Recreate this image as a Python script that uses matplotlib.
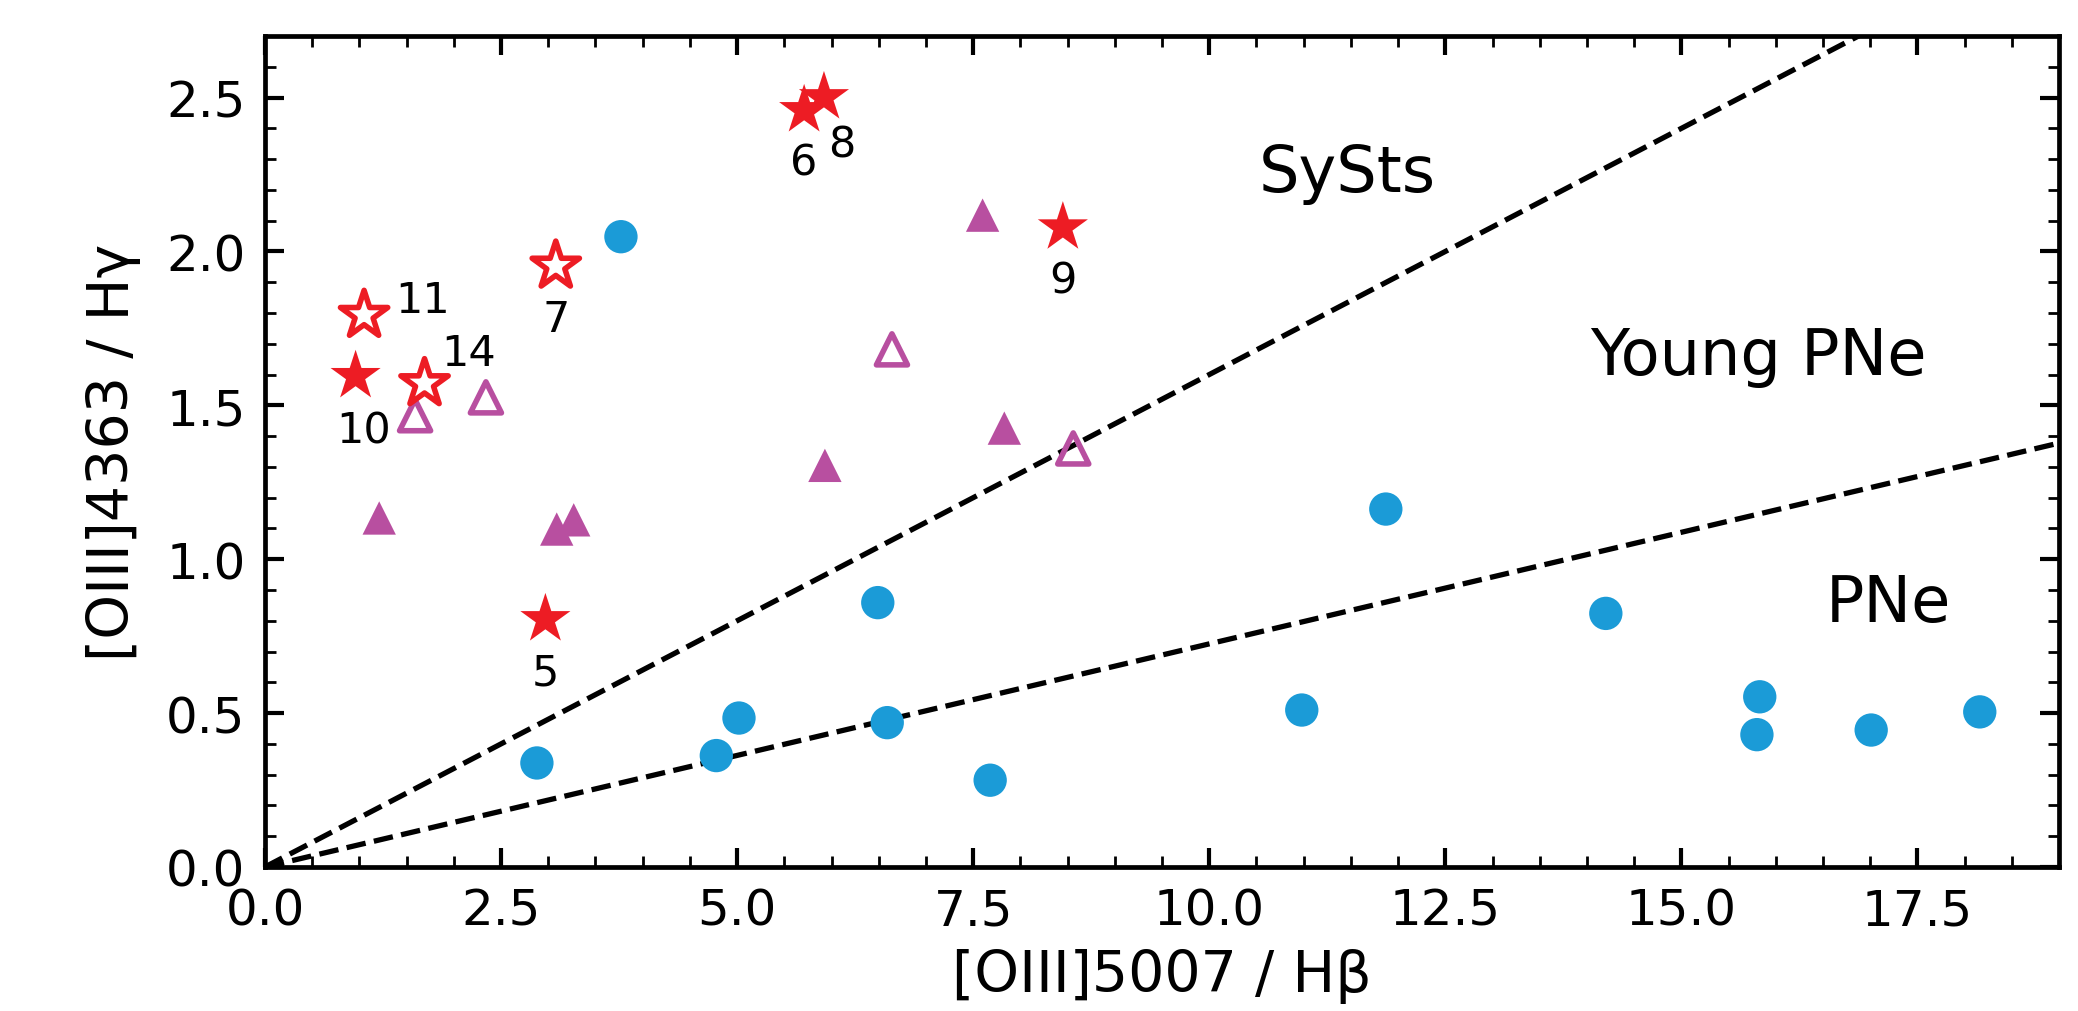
import matplotlib
matplotlib.use("Agg")
import matplotlib.pyplot as plt
from matplotlib.ticker import MultipleLocator

# ---- data ----
pne_x = [2.88, 3.77, 5.02, 4.78, 6.49, 6.59, 7.68, 11.87, 10.98, 14.20, 15.83, 15.80, 17.01, 18.16]
pne_y = [0.338, 2.048, 0.484, 0.362, 0.859, 0.469, 0.282, 1.163, 0.510, 0.824, 0.553, 0.430, 0.445, 0.504]

tri_filled_x = [7.60, 7.83, 5.93, 1.21, 3.27, 3.09]
tri_filled_y = [2.118, 1.426, 1.305, 1.134, 1.128, 1.098]

tri_open_x = [1.59, 2.34, 6.64, 8.56]
tri_open_y = [1.468, 1.526, 1.682, 1.360]

star_filled_x = [2.97, 5.71, 5.92, 8.45, 0.96]
star_filled_y = [0.805, 2.459, 2.501, 2.078, 1.595]
star_filled_lab = ["5", "6", "8", "9", "10"]

star_open_x = [3.08, 1.05, 1.69]
star_open_y = [1.953, 1.793, 1.571]
star_open_lab = ["7", "11", "14"]

slope_systs = 0.160
slope_pne = 0.0725

regions = ["SySts", "Young PNe", "PNe"]
region_x = [11.46, 15.81, 17.19]
region_y = [2.197, 1.601, 0.800]

xlabel = "[OIII]5007 / Hβ"
ylabel = "[OIII]4363 / Hγ"

# label offsets in points (style)
offsets = {"5": (0, -19), "6": (0, -19), "8": (6.5, -17), "9": (0, -19),
           "10": (3, -19.5), "7": (0, -19), "11": (21, 5.5), "14": (16, 11)}

BLUE = "#1B9BD7"
MAG = "#B84FA0"
RED = "#ED1C24"

plt.rcParams['font.family'] = ['DejaVu Sans']
fig = plt.figure(figsize=(10.39, 5.06), dpi=200)
ax = fig.add_axes([0.1275, 0.1423, 0.8634, 0.8211])

xl = [0, 19]
ax.plot(xl, [slope_systs * v for v in xl], ls='--', color='k', lw=1.9, zorder=1)
ax.plot(xl, [slope_pne * v for v in xl], ls='--', color='k', lw=1.9, zorder=1)

ax.scatter(pne_x, pne_y, s=144, marker='o', color=BLUE, edgecolors='none', zorder=2)
ax.scatter(tri_filled_x, tri_filled_y, s=144, marker='^', color=MAG, edgecolors='none', zorder=3)
ax.scatter(tri_open_x, tri_open_y, s=125, marker='^', facecolors='none', edgecolors=MAG, linewidths=2.0, zorder=3)
ax.scatter(star_filled_x, star_filled_y, s=360, marker='*', color=RED, edgecolors='none', zorder=4)
ax.scatter(star_open_x, star_open_y, s=320, marker='*', facecolors='none', edgecolors=RED, linewidths=2.0, zorder=4)

for x, y, t in list(zip(star_filled_x, star_filled_y, star_filled_lab)) + list(zip(star_open_x, star_open_y, star_open_lab)):
    ax.annotate(t, (x, y), xytext=offsets[t], textcoords='offset points',
                ha='center', va='center', fontsize=15.5)

for t, x, y in zip(regions, region_x, region_y):
    ax.text(x, y, t, ha='center', va='baseline', fontsize=23)

ax.set_xlim(0, 19)
ax.set_ylim(0, 2.7)
ax.xaxis.set_major_locator(MultipleLocator(2.5))
ax.xaxis.set_minor_locator(MultipleLocator(0.5))
ax.yaxis.set_major_locator(MultipleLocator(0.5))
ax.yaxis.set_minor_locator(MultipleLocator(0.1))
ax.tick_params(which='both', direction='in', top=True, right=True, labelsize=18, pad=7)
ax.tick_params(which='major', length=6.7, width=1.5)
ax.tick_params(which='minor', length=4, width=1.0)
for sp in ax.spines.values():
    sp.set_linewidth(1.7)

ax.set_xlabel(xlabel, fontsize=20.5, labelpad=5)
ax.set_ylabel(ylabel, fontsize=20.5, labelpad=9)

fig.savefig("out.png", dpi=200)
